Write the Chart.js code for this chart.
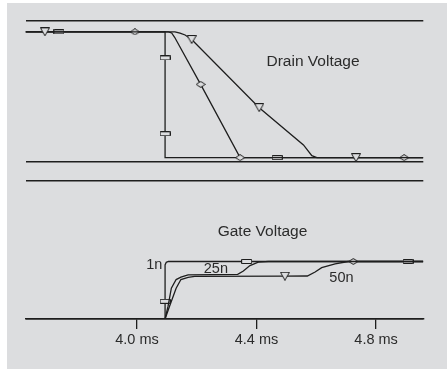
<!DOCTYPE html>
<html>
<head>
<meta charset="utf-8">
<script src="https://cdn.jsdelivr.net/npm/chart.js@4.4.1/dist/chart.umd.min.js"></script>
<style>
  body { margin: 0; background: #ffffff; }
  #wrap { position: relative; width: 447px; height: 369px; overflow: hidden; }
  #panel { position: absolute; left: 7px; top: 3px; width: 440px; height: 366px; background: #dcdddf; }
  canvas { position: absolute; left: 0; }
  #drain-chart { top: 0; }
  #gate-chart { top: 172px; }
</style>
</head>
<body>
<div id="wrap">
  <div id="panel"></div>
  <canvas id="drain-chart" width="447" height="172"></canvas>
  <canvas id="gate-chart" width="447" height="197"></canvas>
</div>
<script>
// time axis (ms)
const xMin = 3.627;
const xMax = 4.958;
const tickValues = [4.0, 4.4, 4.8];
const tickLabels = ['4.0 ms', '4.4 ms', '4.8 ms'];

// drain voltage, one trace per gate resistor
const drain1nX = [3.627, 3.739, 4.094, 4.094, 4.094, 4.094, 4.469, 4.958];
const drain1nY = [12, 12, 12, 9.6, 2.6, 0.4, 0.4, 0.4];
const drain1nMarks = [1, 3, 4, 6];

const drain25nX = [3.627, 3.993, 4.094, 4.105, 4.116, 4.126, 4.213, 4.345, 4.894, 4.958];
const drain25nY = [12, 12, 12, 12, 11.9, 11.5, 7.16, 0.4, 0.4, 0.4];
const drain25nMarks = [1, 6, 7, 8];

const drain50nX = [3.627, 3.692, 4.094, 4.127, 4.144, 4.161, 4.183, 4.409, 4.557, 4.585, 4.602, 4.733, 4.958];
const drain50nY = [12, 12, 12, 12, 11.89, 11.71, 11.29, 5.01, 1.57, 0.58, 0.4, 0.4, 0.4];
const drain50nMarks = [1, 6, 7, 11];

// gate voltage
const gate1nX = [3.627, 4.094, 4.094, 4.094, 4.098, 4.105, 4.367, 4.907, 4.958];
const gate1nY = [0, 0, 1.54, 4.7, 4.93, 5, 5, 5, 5];
const gate1nMarks = [2, 6, 7];

const gate25nX = [3.627, 4.094, 4.104, 4.115, 4.131, 4.147, 4.171, 4.337, 4.356, 4.378, 4.406, 4.44, 4.724, 4.958];
const gate25nY = [0, 0, 1.11, 2.68, 3.43, 3.64, 3.83, 3.88, 4.17, 4.65, 4.95, 5, 5, 5];
const gate25nMarks = [12];

const gate50nX = [3.627, 4.094, 4.109, 4.131, 4.147, 4.171, 4.193, 4.495, 4.57, 4.596, 4.618, 4.663, 4.707, 4.958];
const gate50nY = [0, 0, 1.11, 2.68, 3.43, 3.62, 3.71, 3.72, 3.74, 4.09, 4.46, 4.8, 5, 5];
const gate50nMarks = [7];

const ink = '#1e1e1e';
const bg = '#dcdddf';
const textColor = '#2b2b2b';
const fontFamily = "'Liberation Sans', Arial, sans-serif";

// marker images
function makeMarker(w, h, draw) {
    const c = document.createElement('canvas');
    c.width = w;
    c.height = h;
    const g = c.getContext('2d');
    g.fillStyle = bg;
    g.strokeStyle = ink;
    g.lineWidth = 1;
    g.beginPath();
    draw(g);
    g.closePath();
    g.fill();
    g.stroke();
    return c;
}

const rectMarker = makeMarker(11, 5, g => g.rect(0.5, 0.5, 10, 4));
const diamondMarker = makeMarker(10, 7, g => {
    g.moveTo(0.5, 3.5); g.lineTo(5, 0.5); g.lineTo(9.5, 3.5); g.lineTo(5, 6.5);
});
const triangleMarker = makeMarker(10, 9, g => {
    g.moveTo(0.5, 0.5); g.lineTo(9.5, 0.5); g.lineTo(5, 8.5);
});

function trace(xs, ys, marks, marker, order) {
    return {
        data: xs.map((x, i) => ({ x: x, y: ys[i] })),
        borderColor: ink,
        borderWidth: 1.3,
        tension: 0,
        fill: false,
        order: order,
        pointStyle: marker,
        pointRadius: ctx => marks.includes(ctx.dataIndex) ? 5 : 0,
        pointHoverRadius: 0
    };
}

// text placed at data coordinates
function labelPlugin(labels) {
    return {
        id: 'labels',
        afterDatasetsDraw(chart) {
            const c = chart.ctx;
            const xs = chart.scales.x;
            const ys = chart.scales.y;
            c.save();
            c.fillStyle = textColor;
            c.textAlign = 'center';
            c.textBaseline = 'middle';
            labels.forEach(l => {
                c.font = l.size + 'px ' + fontFamily;
                c.fillText(l.text, xs.getPixelForValue(l.x), ys.getPixelForValue(l.y));
            });
            c.restore();
        }
    };
}

const baseOptions = {
    responsive: false,
    animation: false,
    events: [],
    plugins: { legend: { display: false }, tooltip: { enabled: false } }
};

// drain voltage panel
new Chart(document.getElementById('drain-chart'), {
    type: 'line',
    data: {
        datasets: [
            trace(drain1nX, drain1nY, drain1nMarks, rectMarker, 3),
            trace(drain25nX, drain25nY, drain25nMarks, diamondMarker, 2),
            trace(drain50nX, drain50nY, drain50nMarks, triangleMarker, 1)
        ]
    },
    options: Object.assign({}, baseOptions, {
        layout: { padding: { left: 25.5, right: 23.7, top: 21, bottom: 10 } },
        scales: {
            x: { type: 'linear', display: false, min: xMin, max: xMax },
            y: {
                min: 0, max: 13,
                ticks: { display: false, stepSize: 13 },
                grid: { drawTicks: false, color: ink, lineWidth: 1.4 },
                border: { display: false }
            }
        }
    }),
    plugins: [labelPlugin([
        { text: 'Drain Voltage', x: 4.589, y: 9.22, size: 15.5 }
    ])]
});

// gate voltage panel
new Chart(document.getElementById('gate-chart'), {
    type: 'line',
    data: {
        datasets: [
            trace(gate1nX, gate1nY, gate1nMarks, rectMarker, 3),
            trace(gate25nX, gate25nY, gate25nMarks, diamondMarker, 2),
            trace(gate50nX, gate50nY, gate50nMarks, triangleMarker, 1)
        ]
    },
    options: Object.assign({}, baseOptions, {
        layout: { padding: { left: 25.5, right: 23.7, top: 9, bottom: 18.6 } },
        scales: {
            x: {
                type: 'linear', min: xMin, max: xMax,
                afterBuildTicks: s => { s.ticks = tickValues.map(v => ({ value: v })); },
                ticks: {
                    callback: (v, i) => tickLabels[i],
                    autoSkip: false, maxRotation: 0, padding: 2,
                    color: textColor,
                    font: { family: fontFamily, size: 14.5 }
                },
                grid: { drawOnChartArea: false, drawTicks: true, tickLength: 10, color: ink, lineWidth: 1.3 },
                border: { display: true, color: ink, width: 1.4 }
            },
            y: {
                min: 0, max: 12,
                ticks: { display: false, stepSize: 12 },
                grid: { drawTicks: false, color: ink, lineWidth: 1.4 },
                border: { display: false }
            }
        }
    }),
    plugins: [labelPlugin([
        { text: 'Gate Voltage', x: 4.42, y: 7.63, size: 15.5 },
        { text: '1n', x: 4.058, y: 4.71, size: 14.5 },
        { text: '25n', x: 4.264, y: 4.37, size: 14.5 },
        { text: '50n', x: 4.684, y: 3.56, size: 14.5 }
    ])]
});
</script>
</body>
</html>
